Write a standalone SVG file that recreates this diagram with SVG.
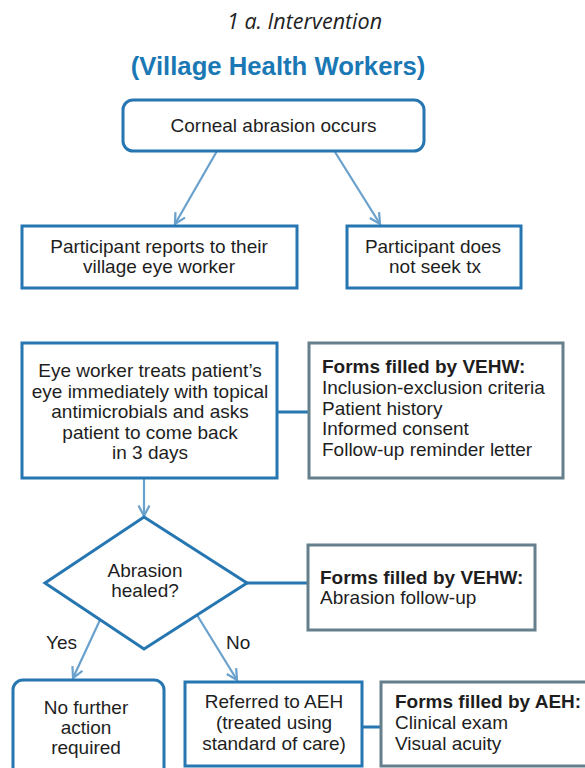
<svg xmlns="http://www.w3.org/2000/svg" width="585" height="768" viewBox="0 0 585 768">
<style>
.t{font-family:"Liberation Sans",Arial,sans-serif;font-size:19px;fill:#1e1e1e}
.c{text-anchor:middle}
.b{font-weight:bold}
.box{fill:#fff;stroke:#2676b2;stroke-width:3}
.frm{fill:#fff;stroke:#65808c;stroke-width:3}
.arr{fill:none;stroke:#69a0cc;stroke-width:2.2;marker-end:url(#ah)}
.link{fill:none;stroke:#2676b2;stroke-width:3}
</style>
<defs>
<marker id="ah" markerUnits="userSpaceOnUse" viewBox="0 0 14 14" refX="12.5" refY="7" markerWidth="14" markerHeight="14" orient="auto">
<path d="M2,1.5 L12.5,7 L2,12.5" fill="none" stroke="#69a0cc" stroke-width="2.2"/>
</marker>
</defs>
<rect width="585" height="768" fill="#fff"/>
<g id="title">
<text x="304.5" y="29" style="font-family:'Open Sans',sans-serif;font-style:italic;font-size:21.5px;fill:#222" text-anchor="middle">1 a. Intervention</text>
<text x="278" y="75" style="font-family:'Liberation Sans',Arial,sans-serif;font-weight:bold;font-size:25.7px;fill:#1a78b4" text-anchor="middle">(Village Health Workers)</text>
</g>
<g id="connectors">
<line class="arr" x1="217" y1="151" x2="175" y2="224"/>
<line class="arr" x1="335" y1="152" x2="380" y2="224"/>
<line class="link" x1="277" y1="412" x2="309" y2="412"/>
<line class="arr" x1="144" y1="478" x2="144" y2="516"/>
<line class="link" x1="247" y1="583" x2="308" y2="583"/>
<line class="arr" x1="100" y1="620" x2="73" y2="678"/>
<line class="arr" x1="197" y1="615" x2="237" y2="680"/>
<line class="link" x1="362" y1="727" x2="381" y2="727"/>
</g>
<g id="n-corneal">
<rect class="box" x="123" y="100" width="301" height="51" rx="10"/>
<text class="t c" x="273.5" y="132">Corneal abrasion occurs</text>
</g>
<g id="n-reports">
<rect class="box" x="22" y="226" width="275" height="62"/>
<text class="t c" x="159" y="253">Participant reports to their</text>
<text class="t c" x="159" y="273">village eye worker</text>
</g>
<g id="n-noseek">
<rect class="box" x="347" y="226" width="174" height="62"/>
<text class="t c" x="433" y="253">Participant does</text>
<text class="t c" x="435" y="273">not seek tx</text>
</g>
<g id="n-treat">
<rect class="box" x="22" y="343" width="255" height="135"/>
<text class="t c" x="150" y="377">Eye worker treats patient’s</text>
<text class="t c" x="150" y="397.5">eye immediately with topical</text>
<text class="t c" x="150" y="418">antimicrobials and asks</text>
<text class="t c" x="150" y="438.5">patient to come back</text>
<text class="t c" x="150" y="459">in 3 days</text>
</g>
<g id="n-forms1">
<rect class="frm" x="309" y="343" width="254" height="135"/>
<text class="t b" x="322" y="373">Forms filled by VEHW:</text>
<text class="t" x="322" y="394">Inclusion-exclusion criteria</text>
<text class="t" x="322" y="414.5">Patient history</text>
<text class="t" x="322" y="435">Informed consent</text>
<text class="t" x="322" y="455.5">Follow-up reminder letter</text>
</g>
<g id="n-healed">
<polygon class="box" points="144,517 247,583 144,649 45,583"/>
<text class="t c" x="145" y="577">Abrasion</text>
<text class="t c" x="145" y="597">healed?</text>
</g>
<g id="n-forms2">
<rect class="frm" x="308" y="545" width="227" height="85"/>
<text class="t b" x="320" y="584">Forms filled by VEHW:</text>
<text class="t" x="320" y="604">Abrasion follow-up</text>
</g>
<g id="labels">
<text class="t" x="46" y="649">Yes</text>
<text class="t" x="226" y="649">No</text>
</g>
<g id="n-nofurther">
<rect class="box" x="13" y="680" width="151" height="110" rx="10"/>
<text class="t c" x="86" y="714">No further</text>
<text class="t c" x="86" y="734">action</text>
<text class="t c" x="86" y="754">required</text>
</g>
<g id="n-referred">
<rect class="box" x="185" y="682" width="177" height="84"/>
<text class="t c" x="274" y="708">Referred to AEH</text>
<text class="t c" x="274" y="729">(treated using</text>
<text class="t c" x="274" y="750">standard of care)</text>
</g>
<g id="n-forms3">
<rect class="frm" x="381" y="682" width="215" height="84"/>
<text class="t b" x="395" y="708">Forms filled by AEH:</text>
<text class="t" x="395" y="729">Clinical exam</text>
<text class="t" x="395" y="750">Visual acuity</text>
</g>
</svg>
